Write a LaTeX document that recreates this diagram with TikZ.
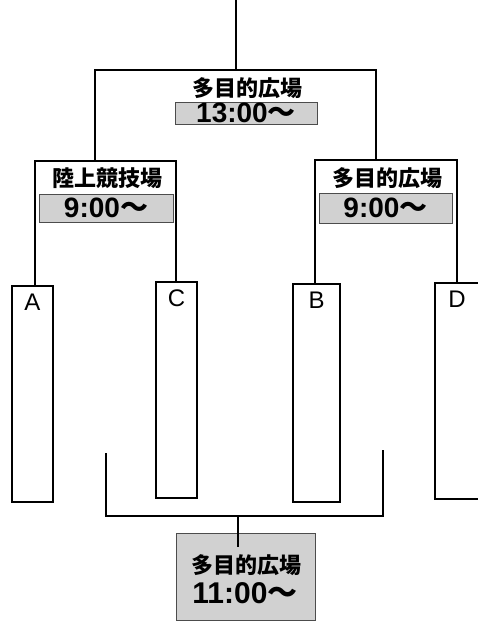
\documentclass[tikz,border=0pt]{standalone}
\usepackage{fontspec}
\setsansfont{Liberation Sans}
\newfontfamily\jp{Noto Sans CJK JP}
\newfontfamily\lat{Liberation Sans}
\begin{document}
\begin{tikzpicture}[x=1pt,y=-1pt,
  line width=2pt,
  lbl/.style={font=\jp\bfseries\fontsize{22}{22}\selectfont, inner sep=0pt},
  timebox/.style={draw=black!70, line width=0.6pt, fill=black!18, inner sep=0pt,
    font=\lat\bfseries\fontsize{28}{28}\selectfont},
  team/.style={draw, line width=2pt, inner sep=0pt, minimum width=41pt, minimum height=216pt},
  letter/.style={font=\lat\fontsize{24}{24}\selectfont, inner sep=0pt}]
\clip (0,0) rectangle (478,621);
\fill[white] (0,0) rectangle (478,621);
% final
\node[lbl] (tl) at (247,88) {多目的広場};
\node[timebox, minimum width=142pt, minimum height=22pt] (tt) at (246,113) {13:00{\jp ～}};
% semis
\node[lbl] (ll) at (107,178) {陸上競技場};
\node[timebox, minimum width=134pt, minimum height=28pt] (lt) at (106,208) {9:00{\jp ～}};
\node[lbl] (rl) at (387,178) {多目的広場};
\node[timebox, minimum width=133pt, minimum height=30pt] (rt) at (385.5,208) {9:00{\jp ～}};
% teams
\node[team] (A) at (32.5,394) {};
\node[team] (C) at (176.5,390) {};
\node[team, minimum width=47pt, minimum height=218pt] (B) at (316.5,393) {};
\node[team, minimum width=44pt] (D) at (457,391) {};
\node[letter] at ([yshift=-17pt]A.north) {A};
\node[letter] at ([yshift=-17pt]C.north) {C};
\node[letter] at ([yshift=-17pt]B.north) {B};
\node[letter] at ([yshift=-17pt]D.north) {D};
% third-place box
\node[draw=black!70, line width=0.8pt, fill=black!18, minimum width=139pt, minimum height=87pt, inner sep=0pt] (bt) at (245.5,576.5) {};
\node[lbl] (btl) at (246,565) {多目的広場};
\node[font=\lat\bfseries\fontsize{30}{30}\selectfont, inner sep=0pt] (btt) at (245,593) {11:00{\jp ～}};
% connectors
\coordinate (top) at (236,0);
\coordinate (fj) at (236,70);
\coordinate (fl) at (95,70);
\coordinate (fr) at (376,70);
\coordinate (ljl) at (35,161);
\coordinate (ljr) at (176,161);
\coordinate (rjl) at (315,160);
\coordinate (rjr) at (457,160);
\draw (top) -- (fj);
\draw (fl |- ljl) -- (fl) -- (fr) -- (fr |- rjl);
\draw (A.north -| ljl) -- (ljl) -- (ljr) -- (ljr |- C.north);
\draw (rjl |- B.north) -- (rjl) -- (rjr) -- (rjr |- D.north);
\coordinate (bl) at (106,453);
\coordinate (br) at (383,450);
\coordinate (bj) at (238,516);
\draw (bl) -- (bl |- bj) -- (br |- bj) -- (br);
\draw (bj) -- (bj |- bt.north) -- ++(0,14);
\end{tikzpicture}
\end{document}
